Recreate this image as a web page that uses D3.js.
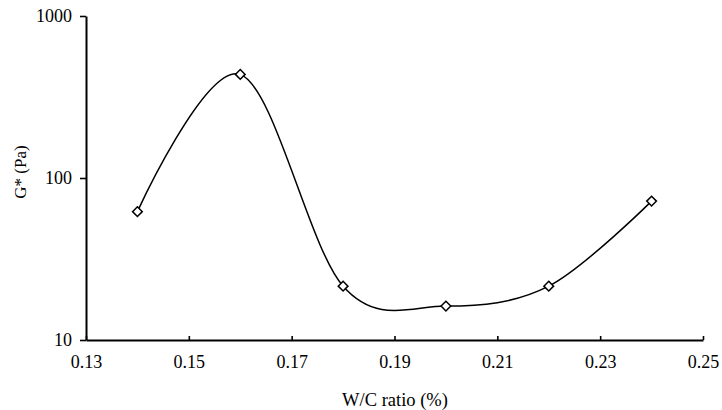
<!DOCTYPE html>
<html><head><meta charset="utf-8">
<script src="https://cdn.jsdelivr.net/npm/d3@7"></script>
<style>body{margin:0;background:#fff}svg{display:block}</style>
</head><body><svg id="c" width="722" height="410"></svg>
<script>
const wcRatio = [0.14, 0.16, 0.18, 0.20, 0.22, 0.24];
const gStar = [62, 436, 21.5, 16.2, 21.5, 72];
const xTicks = [0.13, 0.15, 0.17, 0.19, 0.21, 0.23, 0.25];
const yTicks = [10, 100, 1000];
const FONT = "Liberation Serif";

const svg = d3.select("#c");
const x = d3.scaleLinear().domain([0.13, 0.25]).range([86, 703]);
const y = d3.scaleLog().domain([10, 1000]).range([340, 16]);

const xa = svg.append("g").attr("transform", "translate(0,340)")
  .call(d3.axisBottom(x).tickValues(xTicks).tickSizeInner(-4).tickSizeOuter(0).tickPadding(15).tickFormat(d3.format(".2f")));
const ya = svg.append("g").attr("transform", "translate(86,0)")
  .call(d3.axisLeft(y).tickValues(yTicks).tickSizeInner(6).tickSizeOuter(0).tickPadding(8).tickFormat(d3.format("d")));
[xa, ya].forEach(a => {
  a.attr("font-family", FONT).attr("font-size", 18);
  a.select(".domain").attr("stroke", "#000").attr("stroke-width", 2);
  a.selectAll(".tick line").attr("stroke", "#000").attr("stroke-width", 1.6);
  a.selectAll("text").attr("fill", "#000");
});

const pts = wcRatio.map((v, i) => [x(v), y(gStar[i])]);
svg.append("path").attr("d", d3.line().curve(d3.curveCatmullRom.alpha(0))(pts))
  .attr("fill", "none").attr("stroke", "#000").attr("stroke-width", 1.5);

svg.selectAll(".m").data(pts).join("path").attr("class", "m")
  .attr("d", d3.symbol(d3.symbolDiamond2, 60))
  .attr("transform", d => `translate(${d[0]},${d[1]})`)
  .attr("fill", "#fff").attr("stroke", "#000").attr("stroke-width", 1.5);

svg.append("text").attr("x", 395).attr("y", 406).attr("text-anchor", "middle")
  .attr("font-family", FONT).attr("font-size", 18.5).attr("fill", "#000").text("W/C ratio (%)");
svg.append("text").attr("transform", "translate(26,172) rotate(-90)").attr("text-anchor", "middle")
  .attr("font-family", FONT).attr("font-size", 17).attr("fill", "#000").text("G* (Pa)");
</script></body></html>
